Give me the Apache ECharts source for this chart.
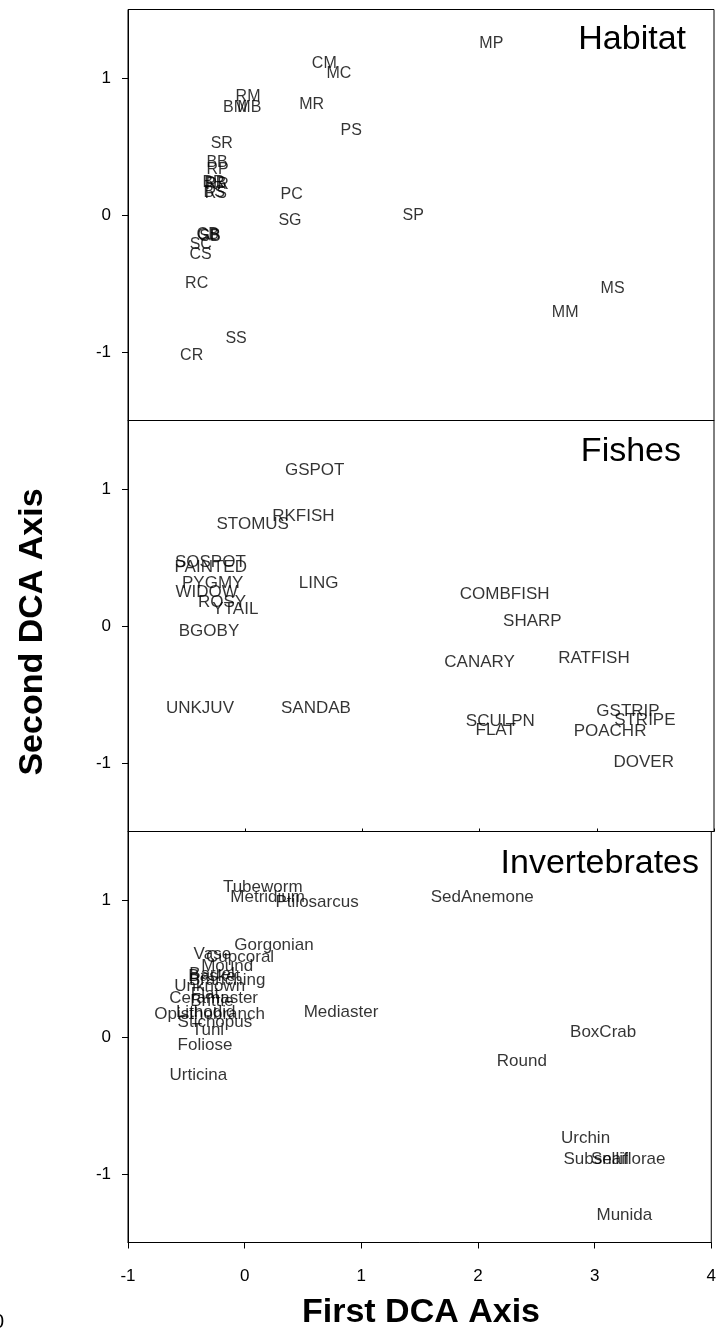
<!DOCTYPE html>
<html>
<head>
<meta charset="utf-8">
<script src="https://cdn.jsdelivr.net/npm/echarts@6/dist/echarts.min.js"></script>
<style>
  html, body { margin: 0; padding: 0; background: #fff; }
  #chart { width: 719px; height: 1331px; }
</style>
</head>
<body>
<div id="chart"></div>
<script>
// Habitat panel
const habitatNames = ["CM", "MC", "RM", "BM", "MB", "MR", "PS", "SR", "BB", "RP", "BR", "RB", "RR", "BS", "RS",
  "PC", "SG", "SP", "MP", "MS", "MM", "CB", "GB", "SB", "SC", "CS", "RC", "SS", "CR"];
const habitatX = [0.675, 0.80, 0.024, -0.087, 0.035, 0.567, 0.905, -0.20, -0.24, -0.235, -0.27, -0.255, -0.238, -0.265, -0.25,
  0.397, 0.382, 1.434, 2.10, 3.135, 2.73, -0.32, -0.31, -0.30, -0.379, -0.38, -0.414, -0.078, -0.457];
const habitatY = [1.107, 1.03, 0.864, 0.786, 0.786, 0.803, 0.615, 0.518, 0.382, 0.333, 0.235, 0.23, 0.225, 0.165, 0.155,
  0.146, -0.044, -0.007, 1.253, -0.538, -0.713, -0.14, -0.15, -0.155, -0.219, -0.29, -0.499, -0.90, -1.029];

// Fishes panel
const fishNames = ["GSPOT", "RKFISH", "STOMUS", "SOSPOT", "PAINTED", "PYGMY", "WIDOW", "ROSY", "YTAIL", "BGOBY", "LING",
  "UNKJUV", "SANDAB", "COMBFISH", "SHARP", "CANARY", "RATFISH", "SCULPN", "FLAT", "GSTRIP", "STRIPE", "POACHR", "DOVER"];
const fishX = [0.593, 0.496, 0.064, -0.297, -0.294, -0.277, -0.329, -0.198, -0.084, -0.309, 0.627,
  -0.386, 0.604, 2.214, 2.45, 2.0, 2.976, 2.177, 2.137, 3.266, 3.41, 3.113, 3.40];
const fishY = [1.139, 0.798, 0.742, 0.462, 0.428, 0.312, 0.246, 0.173, 0.122, -0.036, 0.312,
  -0.60, -0.60, 0.234, 0.031, -0.268, -0.236, -0.698, -0.759, -0.625, -0.686, -0.766, -0.998];

// Invertebrates panel
const invertNames = ["Tubeworm", "Metridium", "Ptilosarcus", "SedAnemone", "Gorgonian", "Vase", "Cupcoral", "Mound",
  "Barrel", "Basket", "Branching", "Unknown", "Flat", "Ceramaster", "Brittle", "Opisthobranch", "Lithodid",
  "Stichopus", "Tuni", "Foliose", "Urticina", "Mediaster", "BoxCrab", "Round", "Urchin", "Subselliflorae", "Snail", "Munida"];
const invertX = [0.155, 0.197, 0.621, 2.037, 0.252, -0.277, -0.039, -0.15,
  -0.28, -0.26, -0.15, -0.30, -0.34, -0.266, -0.28, -0.30, -0.334,
  -0.255, -0.315, -0.34, -0.397, 0.826, 3.073, 2.376, 2.922, 3.17, 3.13, 3.255];
const invertY = [1.096, 1.016, 0.98, 1.016, 0.668, 0.607, 0.585, 0.517,
  0.456, 0.44, 0.412, 0.369, 0.31, 0.286, 0.261, 0.169, 0.179,
  0.104, 0.047, -0.062, -0.281, 0.181, 0.031, -0.177, -0.743, -0.894, -0.894, -1.303];

const yTicks = [-1, 0, 1];
const panelTitles = ["Habitat", "Fishes", "Invertebrates"];

const FONT = "'Liberation Sans', Arial, sans-serif";
const panelTop = [9.5, 420.5, 831.5];
const panelH = 411;

const toPoints = (names, xs, ys) => names.map((n, i) => ({ name: n, value: [xs[i], ys[i]] }));
const panels = [
  toPoints(habitatNames, habitatX, habitatY),
  toPoints(fishNames, fishX, fishY),
  toPoints(invertNames, invertX, invertY),
];

const chart = echarts.init(document.getElementById("chart"));

const option = {
  backgroundColor: "#fff",
  animation: false,
  grid: panelTop.map((t) => ({
    left: 128, width: 586, top: t, height: panelH,
    show: true, borderColor: "#000", borderWidth: 1,
  })),
  xAxis: [0, 1, 2].map((i) => ({
    gridIndex: i, type: "value", min: -1, max: 4, interval: 1,
    splitLine: { show: false },
    axisLine: { show: true, onZero: false, lineStyle: { color: "#000", width: 1 } },
    axisTick: { show: i !== 0, inside: i === 1, length: i === 1 ? 3 : 6, lineStyle: { color: "#000" } },
    axisLabel: { show: i === 2, color: "#000", fontSize: 17, fontFamily: FONT, margin: 25 },
  })),
  yAxis: [0, 1, 2].map((i) => ({
    gridIndex: i, type: "value", min: -1.5, max: 1.5,
    splitLine: { show: false },
    axisLine: { show: true, onZero: false, lineStyle: { color: "#000", width: 1 } },
    axisTick: { show: true, length: 6, customValues: yTicks, lineStyle: { color: "#000" } },
    axisLabel: { color: "#000", fontSize: 17, fontFamily: FONT, margin: 17, customValues: yTicks },
  })),
  series: panels.map((data, i) => ({
    type: "scatter",
    xAxisIndex: i,
    yAxisIndex: i,
    data: data,
    symbolSize: 1,
    itemStyle: { color: "rgba(0,0,0,0)" },
    silent: true,
    label: {
      show: true,
      position: "inside",
      formatter: "{b}",
      color: "#000",
      fontSize: i === 0 ? 16 : 17,
      fontFamily: FONT,
    },
  })),
  graphic: [
    { type: "text", x: 686, y: 40, style: { text: panelTitles[0], fill: "#000", font: "34px " + FONT, textAlign: "right", textVerticalAlign: "middle", align: "right", verticalAlign: "middle" } },
    { type: "text", x: 681, y: 452, style: { text: panelTitles[1], fill: "#000", font: "34px " + FONT, textAlign: "right", textVerticalAlign: "middle", align: "right", verticalAlign: "middle" } },
    { type: "text", x: 699, y: 864, style: { text: panelTitles[2], fill: "#000", font: "34px " + FONT, textAlign: "right", textVerticalAlign: "middle", align: "right", verticalAlign: "middle" } },
    { type: "text", x: 421, y: 1313, style: { text: "First DCA Axis", fill: "#000", font: "bold 34px " + FONT, textAlign: "center", textVerticalAlign: "middle", align: "center", verticalAlign: "middle" } },
    { type: "text", x: 33, y: 632, rotation: Math.PI / 2, style: { text: "Second DCA Axis", fill: "#000", font: "bold 34px " + FONT, textAlign: "center", textVerticalAlign: "middle", align: "center", verticalAlign: "middle" } },
    { type: "text", x: -7, y: 1322, style: { text: "0", fill: "#000", font: "20px " + FONT, textAlign: "left", textVerticalAlign: "middle", align: "left", verticalAlign: "middle" } },
  ],
};

chart.setOption(option);
window.addEventListener("resize", () => chart.resize());
</script>
</body>
</html>
